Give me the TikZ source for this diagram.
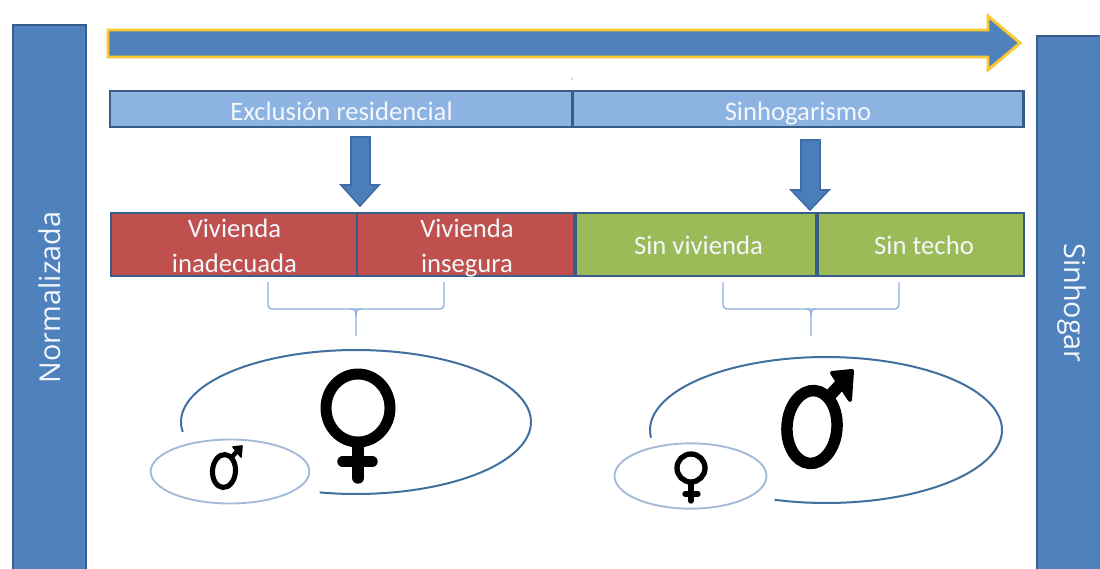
\documentclass[tikz,border=0pt]{standalone}
\usepackage{fontspec}
\usetikzlibrary{shapes.geometric}
\setmainfont{Carlito}
\newfontfamily\sidefont{Open Sans}
\definecolor{sideblue}{HTML}{4F81BD}
\definecolor{edgeblue}{HTML}{385D8A}
\definecolor{barblue}{HTML}{8DB3E2}
\definecolor{cellred}{HTML}{C0504D}
\definecolor{cellgreen}{HTML}{9BBB59}
\definecolor{gold}{HTML}{F9C92F}
\definecolor{bracketblue}{HTML}{8FB0DA}
\definecolor{ringdark}{HTML}{41709F}
\definecolor{ringlight}{HTML}{A3BAD6}
\definecolor{softwhite}{HTML}{F4F7FB}
\definecolor{arrowblue}{HTML}{4A7EBB}
\definecolor{arrowedge}{HTML}{3E6DA5}
\tikzset{
  cell/.style={draw=edgeblue,line width=1.9pt,inner sep=0pt},
  topcell/.style={cell,fill=barblue,minimum height=27pt},
  redcell/.style={cell,fill=cellred,minimum height=47pt},
  greencell/.style={cell,fill=cellgreen,minimum height=47pt},
  celltext/.style={text=softwhite,align=center,inner sep=0pt,anchor=base,
    font=\fontsize{20}{26}\selectfont},
  sidebox/.style={draw=edgeblue,line width=1.2pt,fill=sideblue,inner sep=0pt},
  sidetext/.style={text=softwhite,inner sep=0pt,font=\sidefont\fontsize{21.6}{24}\selectfont},
  blockarrow/.style={draw=arrowedge,line width=1.2pt,fill=arrowblue,line join=miter},
  bracketline/.style={draw=bracketblue,line width=1pt,rounded corners=3pt},
  bracketstem/.style={draw=bracketblue,line width=1pt},
  bigring/.style={draw=ringdark,line width=1.5pt},
  smallring/.style={draw=ringlight,line width=1.4pt},
  symbolink/.style={draw=black,line cap=round}
}
\begin{document}
\begin{tikzpicture}[x=0.75pt,y=-0.75pt]
\useasboundingbox (0,0) rectangle (1100,568);
% side boxes
\node[sidebox,minimum width=54.5pt,minimum height=410pt] (left) at (49.5,298.5) {};
\node[sidebox,minimum width=60pt,minimum height=402pt] (right) at (1077,304) {};
\node[sidetext,rotate=90] (normal) at (50,297.5) {Normalizada};
\node[sidetext,rotate=-90] (sinhogar) at (1072,303) {Sinhogar};
% top arrow
\draw[draw=gold,line width=2.2pt,fill=sideblue,line join=miter]
  (108,30) -- (988,30) -- (988,16) -- (1020,43) -- (988,70) -- (988,57) -- (108,57) -- cycle;
% top bar
\node[topcell,minimum width=346.5pt] (excl) at (341,109) {};
\node[topcell,minimum width=338pt] (sinh) at (798,109) {};
\node[celltext] (exclt) at (341.5,120.5) {Exclusión residencial};
\node[celltext] (sinht) at (798,120.5) {Sinhogarismo};
\fill[edgeblue] (572,79) circle (0.7);
% row of cells
\node[redcell,minimum width=184.5pt] (inad) at (234,244.5) {};
\node[redcell,minimum width=162.5pt] (inse) at (465.5,244.5) {};
\node[greencell,minimum width=181pt] (sviv) at (696,244.5) {};
\node[greencell,minimum width=154.5pt] (stec) at (921,244.5) {};
\node[celltext] (inadt) at (234.5,272) {Vivienda\\inadecuada};
\node[celltext] (inset) at (467,272) {Vivienda\\insegura};
\node[celltext] (svivt) at (698.5,254.5) {Sin vivienda};
\node[celltext] (stect) at (924,254.5) {Sin techo};
% block arrows
\draw[blockarrow] (351,137) -- (370,137) -- (370,185) -- (379,185) -- (360,206) -- (341,185) -- (351,185) -- cycle;
\draw[blockarrow] (801,140) -- (820,140) -- (820,190) -- (829,190) -- (810,210) -- (791,190) -- (801,190) -- cycle;
% brackets
\coordinate (b1l) at (268,282);
\coordinate (b1r) at (444,282);
\coordinate (b1m) at (356,309);
\coordinate (b1e) at (356,336);
\draw[bracketline] (b1l) -- (b1l|-b1m) -- (b1r|-b1m) -- (b1r);
\draw[bracketstem] ([xshift=-4pt]b1m) .. controls (b1m) and ([yshift=-2pt]b1m) .. ([yshift=-6pt]b1m) -- (b1e);
\draw[bracketstem] ([xshift=4pt]b1m) .. controls (b1m) and ([yshift=-2pt]b1m) .. ([yshift=-6pt]b1m);
\coordinate (b2l) at (723,282);
\coordinate (b2r) at (899,282);
\coordinate (b2m) at (811,309);
\coordinate (b2e) at (811,336);
\draw[bracketline] (b2l) -- (b2l|-b2m) -- (b2r|-b2m) -- (b2r);
\draw[bracketstem] ([xshift=-4pt]b2m) .. controls (b2m) and ([yshift=-2pt]b2m) .. ([yshift=-6pt]b2m) -- (b2e);
\draw[bracketstem] ([xshift=4pt]b2m) .. controls (b2m) and ([yshift=-2pt]b2m) .. ([yshift=-6pt]b2m);
% left ellipses
\draw[bigring] plot[smooth,samples=60,domain=172:462] ({356+175*cos(\x)},{422+72*sin(\x)});
\node[ellipse,smallring,minimum width=119pt,minimum height=48pt,inner sep=0pt] (e1) at (230,471.5) {};
% right ellipses
\draw[bigring] plot[smooth,samples=60,domain=174:467] ({826+176*cos(\x)},{430+73*sin(\x)});
\node[ellipse,smallring,minimum width=114pt,minimum height=49pt,inner sep=0pt] (e2) at (690.5,476) {};
% big female symbol
\draw[symbolink,line width=8.2pt] (358,408) ellipse [x radius=32,y radius=34];
\draw[symbolink,line width=8.6pt] (358,446) -- (358,478);
\draw[symbolink,line width=8.6pt] (343,461.5) -- (372,461.5);
% small female symbol
\draw[symbolink,line width=4pt] (691,468) circle [radius=14];
\draw[symbolink,line width=4pt] (691,484) -- (691,501);
\draw[symbolink,line width=4pt] (685,494) -- (698,494);
% big male symbol
\draw[symbolink,line width=8.6pt,rotate around={-4:(812,427)}] (812,427) ellipse [x radius=25,y radius=36.5];
\draw[symbolink,line width=9pt,line cap=butt] (826,400) -- (846,378);
\fill[symbolink,draw=black,line width=3pt,line join=round] (852,371) -- (832,373) -- (850,400) -- cycle;
% small male symbol
\draw[symbolink,line width=3.8pt,rotate around={-4:(224,471)}] (224,471) ellipse [x radius=11.5,y radius=16.5];
\draw[symbolink,line width=3.4pt,line cap=butt] (231,458) -- (240,448);
\fill[symbolink,draw=black,line width=1.2pt,line join=round] (242,446) -- (233,447) -- (241,457) -- cycle;
\end{tikzpicture}
\end{document}
